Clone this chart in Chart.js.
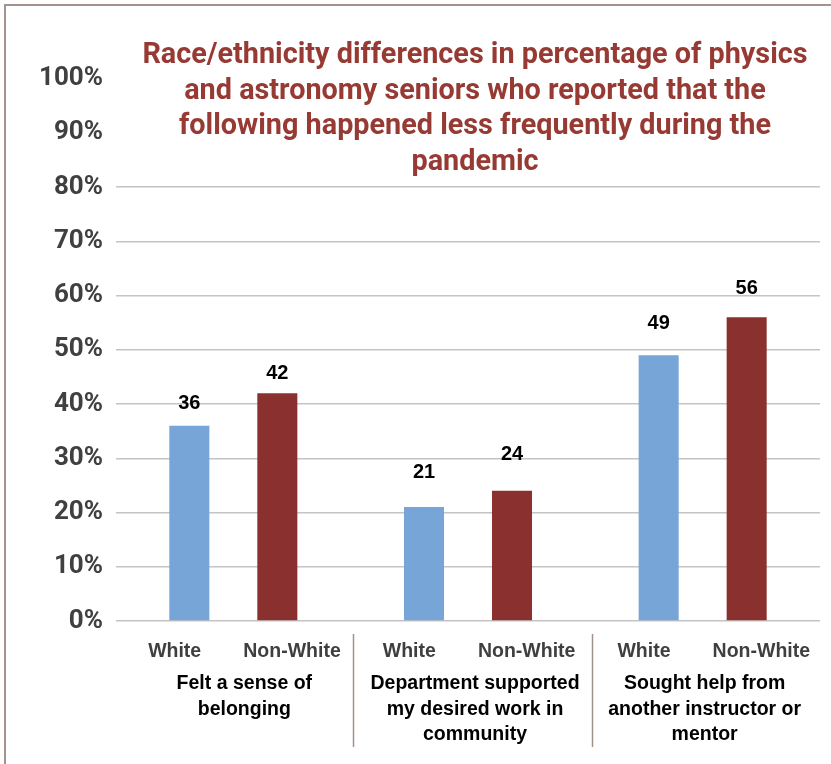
<!DOCTYPE html>
<html>
<head>
<meta charset="utf-8">
<script src="https://cdn.jsdelivr.net/npm/chart.js@4/dist/chart.umd.min.js"></script>
<style>
  html, body { margin: 0; padding: 0; background: #ffffff; }
  #wrap { position: relative; width: 831px; height: 764px; overflow: hidden; }
  #frame { position: absolute; left: 4px; top: 4px; width: 900px; height: 900px;
           border-left: 2px solid #a3948b; border-top: 2px solid #a3948b; pointer-events: none; }
  canvas { position: absolute; left: 0; top: 0; }
</style>
</head>
<body>
<div id="wrap">
  <canvas id="chart" width="831" height="764"></canvas>
  <div id="frame"></div>
</div>
<script>
// Survey groups (x axis) and the two race/ethnicity series
const groups = [
  ["Felt a sense of", "belonging"],
  ["Department supported", "my desired work in", "community"],
  ["Sought help from", "another instructor or", "mentor"]
];
const seriesNames = ["White", "Non-White"];
const whiteValues = [36, 21, 49];
const nonWhiteValues = [42, 24, 56];
const yTicks = [0, 10, 20, 30, 40, 50, 60, 70, 80, 90, 100];

const titleLines = [
  "Race/ethnicity differences in percentage of physics",
  "and astronomy seniors who reported that the",
  "following happened less frequently during the",
  "pandemic"
];

const BLUE = "#77a5d7";
const RED = "#8a3130";
const LABEL_SHIFT = [11, 7, 2];
// distance (px) from each bar top to the centre of its value label, per series
const LABEL_LIFT = [[22, 35, 32], [20, 36, 29]];

// Draws title, value labels, two-level x labels and group separators
const decorations = {
  id: "decorations",
  afterDraw(chart) {
    const ctx = chart.ctx;
    const area = chart.chartArea;
    const x = chart.scales.x;
    ctx.save();

    // title
    ctx.fillStyle = "#963a33";
    ctx.font = "bold 28.8px Roboto";
    ctx.textAlign = "center";
    ctx.textBaseline = "alphabetic";
    titleLines.forEach((t, i) => ctx.fillText(t, 475, 63 + i * 35.5));

    // value labels above bars
    ctx.fillStyle = "#000000";
    ctx.font = "bold 20px 'Liberation Sans'";
    ctx.textBaseline = "middle";
    chart.data.datasets.forEach((ds, di) => {
      chart.getDatasetMeta(di).data.forEach((bar, i) => {
        ctx.fillText(String(ds.data[i]), bar.x, bar.y - LABEL_LIFT[di][i]);
      });
    });

    // series names under each slot
    const slot = (area.right - area.left) / (groups.length * seriesNames.length);
    ctx.fillStyle = "#3f3f3f";
    ctx.font = "bold 19.5px 'Liberation Sans'";
    ctx.textBaseline = "alphabetic";
    for (let g = 0; g < groups.length; g++) {
      seriesNames.forEach((name, s) => {
        const cx = area.left + slot * (g * seriesNames.length + s + 0.5);
        ctx.fillText(name, cx, area.bottom + 36);
      });
    }

    // group names
    ctx.fillStyle = "#000000";
    ctx.font = "bold 19.5px 'Liberation Sans'";
    groups.forEach((lines, g) => {
      const cx = x.getPixelForValue(g) + LABEL_SHIFT[g];
      lines.forEach((ln, k) => ctx.fillText(ln, cx, area.bottom + 68 + k * 25.5));
    });

    // separators between groups
    ctx.strokeStyle = "#a0928a";
    ctx.lineWidth = 1.5;
    for (let g = 1; g < groups.length; g++) {
      const left = area.left + slot * (g * seriesNames.length - 0.5);
      const right = area.left + slot * (g * seriesNames.length + 0.5);
      const sx = Math.round((left + right) / 2) + 2.5 + (g - 1) * 5;
      ctx.beginPath();
      ctx.moveTo(sx, area.bottom + 13);
      ctx.lineTo(sx, area.bottom + 126);
      ctx.stroke();
    }
    ctx.restore();
  }
};

new Chart(document.getElementById("chart"), {
  type: "bar",
  data: {
    labels: groups,
    datasets: [
      { label: seriesNames[0], data: whiteValues, backgroundColor: BLUE },
      { label: seriesNames[1], data: nonWhiteValues, backgroundColor: RED }
    ]
  },
  options: {
    responsive: false,
    animation: false,
    events: [],
    layout: { padding: { top: 78.5, right: 11, bottom: 0, left: 0 } },
    datasets: { bar: { categoryPercentage: 0.75, barPercentage: 0.455 } },
    plugins: { legend: { display: false }, title: { display: false }, tooltip: { enabled: false } },
    scales: {
      x: {
        grid: { display: false },
        border: { display: false },
        ticks: { display: false },
        afterFit(scale) { scale.height = 143; }
      },
      y: {
        min: 0,
        max: 100,
        afterBuildTicks(scale) { scale.ticks = yTicks.map(v => ({ value: v })); },
        ticks: {
          padding: 13,
          color: "#404040",
          font: { family: "Roboto", weight: "bold", size: 26 },
          callback: v => v + "%"
        },
        grid: {
          drawTicks: false,
          lineWidth: 1.5,
          color: c => (c.tick && c.tick.value <= 80 ? "#c4c4c4" : "rgba(0,0,0,0)")
        },
        border: { display: false },
        afterFit(scale) { scale.width = 116; }
      }
    }
  },
  plugins: [decorations]
});
</script>
</body>
</html>
